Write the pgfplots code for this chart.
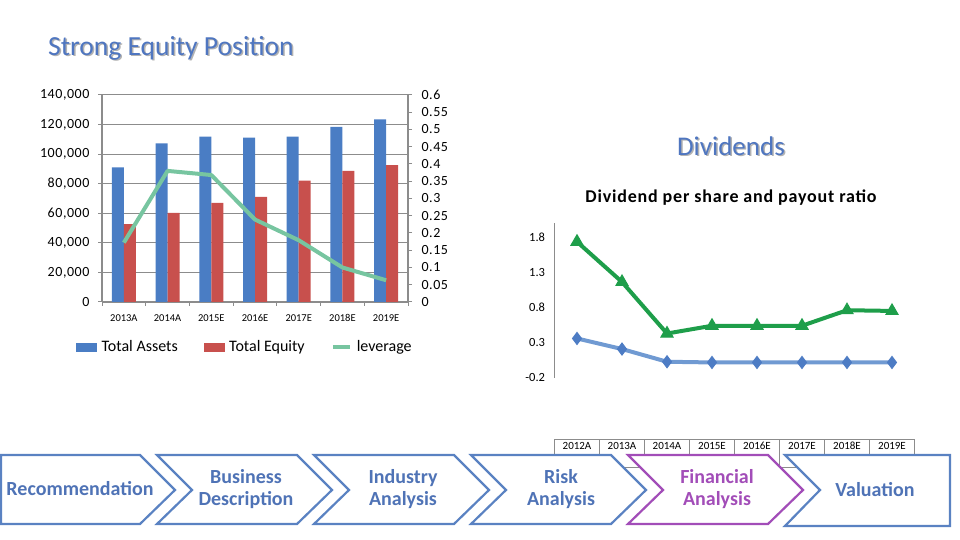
\documentclass[border=0pt]{standalone}
\usepackage{fontspec}
\setmainfont{Carlito}
\usepackage{pgfplots}
\pgfplotsset{compat=1.18}
\definecolor{titleblue}{HTML}{4F76C0}
\definecolor{barblue}{HTML}{4A7DC4}
\definecolor{barred}{HTML}{C8504D}
\definecolor{levgreen}{HTML}{77C5A0}
\definecolor{axgray}{HTML}{8C8C8C}
\definecolor{divgreen}{HTML}{1E9E4A}
\definecolor{divblue}{HTML}{709AD2}
\definecolor{divmark}{HTML}{4D7CC4}
\definecolor{chevblue}{HTML}{5A82C2}
\definecolor{chevpurple}{HTML}{A24DB8}
\definecolor{textblue}{HTML}{4F73B6}
\begin{document}
\begin{tikzpicture}[x=1bp,y=1bp]
\path[use as bounding box] (0,0) rectangle (960,540);
% slide titles
\node[anchor=west,inner sep=0,text=black!30,font=\fontsize{27.6bp}{30bp}\selectfont] at (49.5,490.5) {Strong Equity Position};
\node[anchor=west,inner sep=0,text=titleblue,font=\fontsize{27.6bp}{30bp}\selectfont] at (48,492) {Strong Equity Position};
\node[inner sep=0,text=black!30,font=\fontsize{27bp}{30bp}\selectfont] at (732.5,392.5) {Dividends};
\node[inner sep=0,text=titleblue,font=\fontsize{27bp}{30bp}\selectfont] at (731,394) {Dividends};
\node[inner sep=0,font=\bfseries\fontsize{18bp}{20bp}\selectfont\addfontfeature{LetterSpace=4.5}] at (731,342) {Dividend per share and payout ratio};

% ---------- left chart: bars ----------
\begin{axis}[
  at={(102bp,238bp)}, anchor=south west, scale only axis,
  width=306bp, height=207bp,
  xmin=-0.5, xmax=6.5, ymin=0, ymax=140000,
  xtick={-0.5,0.5,1.5,2.5,3.5,4.5,5.5,6.5},
  x tick label as interval,
  xticklabels={2013A,2014A,2015E,2016E,2017E,2018E,2019E},
  ytick={0,20000,40000,60000,80000,100000,120000,140000},
  yticklabels={0,{20,000},{40,000},{60,000},{80,000},{100,000},{120,000},{140,000}},
  scaled y ticks=false,
  ymajorgrids, grid style={axgray,line width=1bp},
  axis x line*=bottom, axis y line*=left,
  axis line style={axgray,line width=1.5bp,-},
  tick align=outside, major tick length=4bp,
  tick style={axgray,line width=1bp},
  x tick label style={font=\fontsize{10.5bp}{12bp}\selectfont,yshift=-5bp},
  y tick label style={font=\fontsize{14bp}{16bp}\selectfont\addfontfeature{LetterSpace=4},xshift=-5bp},
  legend style={at={(0.467,-0.217)},anchor=center,draw=none,fill=none,
    font=\fontsize{16bp}{18bp}\selectfont,
    /tikz/every odd column/.append style={column sep=3bp},
    /tikz/every even column/.append style={column sep=24bp}},
  legend columns=3,
]
\addplot[ybar,fill=barblue,draw=none,bar width=12bp,bar shift=-6bp,forget plot]
  coordinates {(0,91000)(1,107300)(2,111800)(3,111100)(4,111800)(5,118500)(6,123500)};
\addplot[ybar,fill=barred,draw=none,bar width=12bp,bar shift=6bp,forget plot]
  coordinates {(0,52600)(1,60300)(2,67100)(3,71100)(4,82000)(5,88700)(6,92600)};
\addlegendimage{legend image code/.code={\fill[barblue] (0bp,-4bp) rectangle (20bp,4bp);}}
\addlegendentry{Total Assets}
\addlegendimage{legend image code/.code={\fill[barred] (0bp,-4bp) rectangle (20bp,4bp);}}
\addlegendentry{Total Equity}
\addlegendimage{legend image code/.code={\draw[levgreen,line width=4bp] (0bp,0bp) -- (17bp,0bp);}}
\addlegendentry{leverage}
\end{axis}

% ---------- left chart: leverage on right axis ----------
\begin{axis}[
  at={(102bp,238bp)}, anchor=south west, scale only axis,
  width=306bp, height=207bp,
  xmin=-0.5, xmax=6.5, ymin=0, ymax=0.6,
  axis x line=none, axis y line*=right,
  axis line style={axgray,line width=1.5bp,-},
  ytick={0,0.05,0.1,0.15,0.2,0.25,0.3,0.35,0.4,0.45,0.5,0.55,0.6},
  yticklabels={0,0.05,0.1,0.15,0.2,0.25,0.3,0.35,0.4,0.45,0.5,0.55,0.6},
  tick align=outside, major tick length=4bp,
  tick style={axgray,line width=1bp},
  y tick label style={font=\fontsize{14bp}{16bp}\selectfont\addfontfeature{LetterSpace=4},xshift=6bp},
]
\addplot[levgreen,line width=4bp,no markers,line join=round]
  coordinates {(0,0.172)(1,0.380)(2,0.368)(3,0.239)(4,0.179)(5,0.100)(6,0.063)};
\end{axis}

% ---------- right chart: dividends ----------
\begin{axis}[
  at={(554.5bp,162bp)}, anchor=south west, scale only axis,
  width=360bp, height=155.3bp,
  xmin=-0.5, xmax=7.5, ymin=-0.2, ymax=2.0,
  axis y line*=left, axis x line*=bottom,
  x axis line style={draw=none},
  y axis line style={axgray,line width=1.5bp,-},
  ytick={-0.2,0.3,0.8,1.3,1.8},
  yticklabels={-0.2,0.3,0.8,1.3,1.8},
  xtick={0,1,2,3,4,5,6,7},
  xticklabels={2012A,2013A,2014A,2015E,2016E,2017E,2018E,2019E},
  major tick length=0pt,
  y tick label style={font=\fontsize{12.5bp}{14bp}\selectfont,xshift=-6bp},
  x tick label style={font=\fontsize{11bp}{13bp}\selectfont,draw=axgray,line width=1.2bp,
    minimum width=45bp,inner sep=2bp,text height=8bp,text depth=16bp,anchor=north,yshift=-61bp},
  clip=false,
]
\addplot[divblue,line width=4bp,mark=diamond*,mark size=6bp,
  mark options={fill=divmark,draw=divmark,line width=1bp}]
  coordinates {(0,0.36)(1,0.21)(2,0.03)(3,0.02)(4,0.02)(5,0.02)(6,0.02)(7,0.02)};
\addplot[divgreen,line width=4bp,mark=triangle*,mark size=7bp,
  mark options={fill=divgreen,draw=divgreen,line width=1bp}]
  coordinates {(0,1.73)(1,1.16)(2,0.43)(3,0.54)(4,0.54)(5,0.54)(6,0.76)(7,0.75)};
\end{axis}

% ---------- navigation chevrons ----------
\tikzset{chev/.style={line width=2.2bp,fill=white,line join=miter},
  chevtext/.style={font=\bfseries\fontsize{20bp}{22bp}\selectfont,align=center,inner sep=0}}
\draw[chev,draw=chevblue] (1,85)--(140,85)--(175,50)--(140,16)--(1,16)--cycle;
\draw[chev,draw=chevblue] (157,85)--(297,85)--(332,50)--(297,16)--(157,16)--(192,50)--cycle;
\draw[chev,draw=chevblue] (314,85)--(454,85)--(489,50)--(454,16)--(314,16)--(349,50)--cycle;
\draw[chev,draw=chevblue] (471,85)--(611,85)--(646,50)--(611,16)--(471,16)--(506,50)--cycle;
\draw[chev,draw=chevpurple] (628,85)--(768,85)--(803,50)--(768,16)--(628,16)--(663,50)--cycle;
\draw[chev,draw=chevblue] (785,85)--(950,85)--(950,14)--(785,14)--(820,50)--cycle;
\node[chevtext,text=textblue] at (80,51) {Recommendation};
\node[chevtext,text=textblue] at (246,51) {Business\\Description};
\node[chevtext,text=textblue] at (403,51) {Industry\\Analysis};
\node[chevtext,text=textblue] at (561,51) {Risk\\Analysis};
\node[chevtext,text=chevpurple] at (717,51) {Financial\\Analysis};
\node[chevtext,text=textblue] at (875,50) {Valuation};
\end{tikzpicture}
\end{document}
